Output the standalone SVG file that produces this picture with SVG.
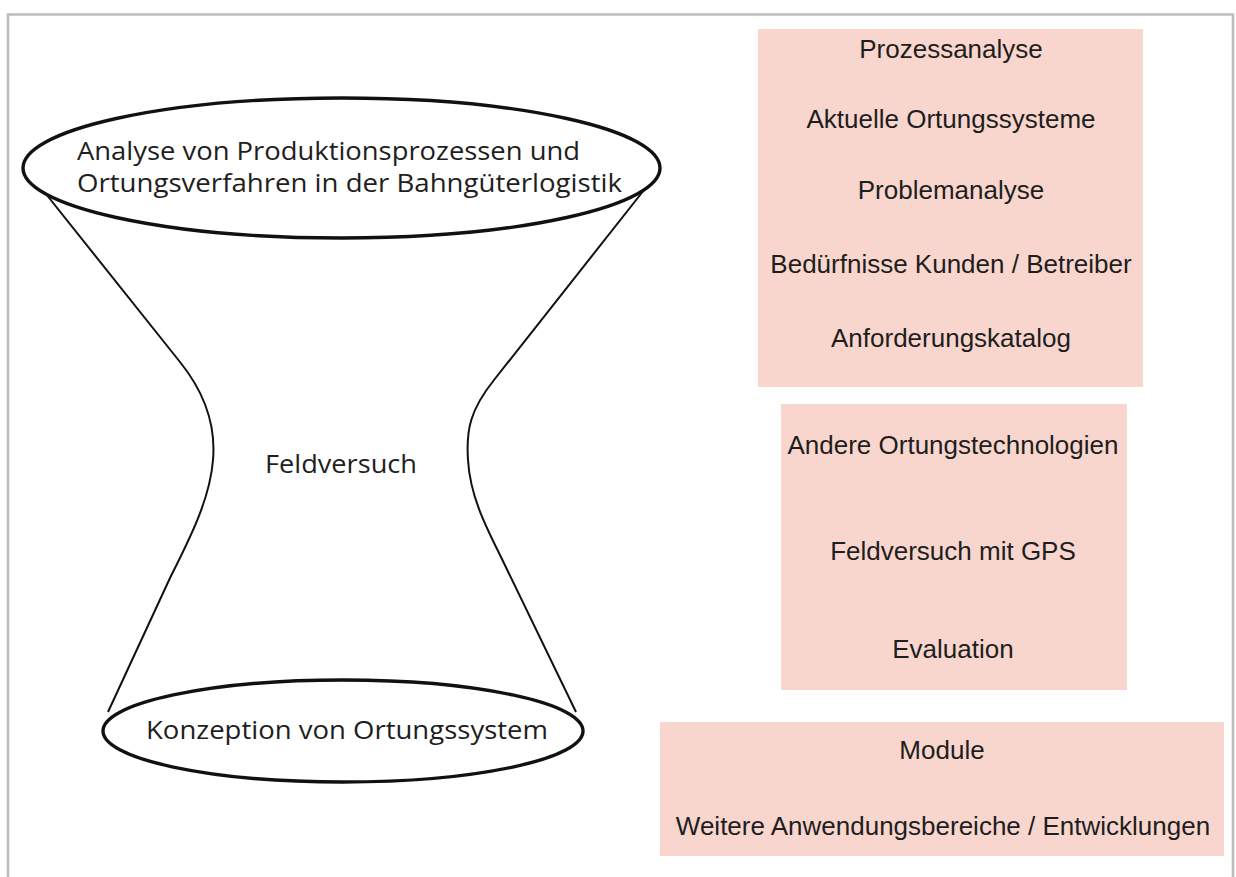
<svg xmlns="http://www.w3.org/2000/svg" width="1236" height="877" viewBox="0 0 1236 877">
  <style>
    .frame { fill: none; stroke: #bdbdbd; stroke-width: 2.6; }
    .oval { fill: none; stroke: #111; stroke-width: 3.4; }
    .side { fill: none; stroke: #111; stroke-width: 2; stroke-linejoin: round; }
    .hand { font-family: "Open Sans", "Noto Sans", sans-serif; font-size: 26px; fill: #1e1e1e; }
    .hand.small { font-size: 25px; }
    .box { fill: #f8d6cd; }
    .item { font-family: "Liberation Sans", Arial, sans-serif; font-size: 26px; fill: #1e1e1e; text-anchor: middle; }
  </style>

  <rect width="1236" height="877" fill="#ffffff"/>
  <!-- outer frame, open at the bottom -->
  <path class="frame" d="M8,877 V14.5 H1233 V877"/>

  <!-- hourglass sides joining the two ellipses -->
  <g id="connectors">
    <path class="side" d="M46,194 L180,362 C205,393 216,425 213,460 C210,500 188,542 170,578 L108,712"/>
    <path class="side" d="M644,190 L494,380 C470,410 466,430 468,460 C470,495 485,525 500,555 L576,712"/>
  </g>

  <g id="top-ellipse">
    <ellipse class="oval" cx="341.5" cy="168" rx="318.5" ry="70"/>
    <text class="hand small" x="77" y="160" textLength="503" lengthAdjust="spacingAndGlyphs">Analyse von Produktionsprozessen und</text>
    <text class="hand small" x="77" y="192" textLength="545" lengthAdjust="spacingAndGlyphs">Ortungsverfahren in der Bahngüterlogistik</text>
  </g>

  <g id="middle-label">
    <text class="hand" x="265" y="473" textLength="152" lengthAdjust="spacingAndGlyphs">Feldversuch</text>
  </g>

  <g id="bottom-ellipse">
    <ellipse class="oval" cx="343" cy="731" rx="240" ry="51"/>
    <text class="hand" x="146" y="739" textLength="402" lengthAdjust="spacingAndGlyphs">Konzeption von Ortungssystem</text>
  </g>

  <g id="box-analysis">
    <rect class="box" x="758" y="29" width="385" height="358"/>
    <text class="item" x="951" y="58">Prozessanalyse</text>
    <text class="item" x="951" y="128">Aktuelle Ortungssysteme</text>
    <text class="item" x="951" y="199">Problemanalyse</text>
    <text class="item" x="951" y="273">Bedürfnisse Kunden / Betreiber</text>
    <text class="item" x="951" y="347">Anforderungskatalog</text>
  </g>

  <g id="box-field-test">
    <rect class="box" x="781" y="404" width="346" height="286"/>
    <text class="item" x="953" y="454">Andere Ortungstechnologien</text>
    <text class="item" x="953" y="560">Feldversuch mit GPS</text>
    <text class="item" x="953" y="658">Evaluation</text>
  </g>

  <g id="box-outlook">
    <rect class="box" x="660" y="722" width="564" height="134"/>
    <text class="item" x="942" y="759">Module</text>
    <text class="item" x="943" y="835">Weitere Anwendungsbereiche / Entwicklungen</text>
  </g>
</svg>
